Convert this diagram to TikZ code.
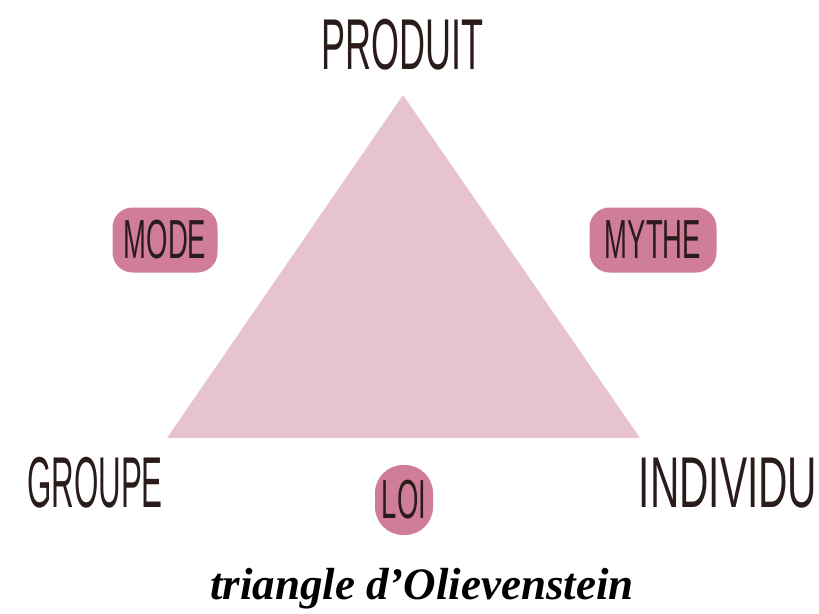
\documentclass[tikz,border=0pt]{standalone}
\usepackage{fontspec}
\newfontfamily\handfont[FakeStretch=0.5]{Liberation Sans}
\newfontfamily\handfontnarrow[FakeStretch=0.435]{Liberation Sans}
\newfontfamily\handfontwide[FakeStretch=0.565]{Liberation Sans}
\newfontfamily\capfont{Liberation Serif}
\definecolor{trifill}{HTML}{E6C3CE}
\definecolor{badge}{HTML}{D07D9A}
\definecolor{ink}{HTML}{2B1C1C}
\tikzset{
  corner/.style={text=ink,font=\handfont\fontsize{72}{72}\selectfont,inner sep=0pt},
  badgebox/.style={fill=badge,rounded corners=20pt,text=ink,font=\handfont\fontsize{55}{55}\selectfont,inner sep=0pt},
}
\begin{document}
\begin{tikzpicture}[x=1pt,y=-1pt]
\path[use as bounding box] (0,0) rectangle (819,613);
\coordinate (apex) at (403,95);
\coordinate (bl) at (167,438);
\coordinate (br) at (640,438);
\fill[trifill] (apex) -- (bl) -- (br) -- cycle;
\node[corner] (produit) at (402,45) {PRODUIT};
\node[corner,font=\handfontnarrow\fontsize{72}{72}\selectfont] (groupe) at (95,483) {GROUPE};
\node[corner,font=\handfontwide\fontsize{72}{72}\selectfont] (individu) at (728,483) {INDIVIDU};
\node[badgebox,minimum width=105pt,minimum height=65pt] (mode) at (165,240) {MODE};
\node[badgebox,minimum width=127pt,minimum height=65pt] (mythe) at (653,240) {MYTHE};
\node[badgebox,minimum width=58pt,minimum height=70pt,rounded corners=28pt] (loi) at (404,500) {LOI};
\node[text=black,font=\capfont\bfseries\itshape\fontsize{45}{45}\selectfont,inner sep=0pt] (caption) at (422,589) {triangle d’Olievenstein};
\end{tikzpicture}
\end{document}
